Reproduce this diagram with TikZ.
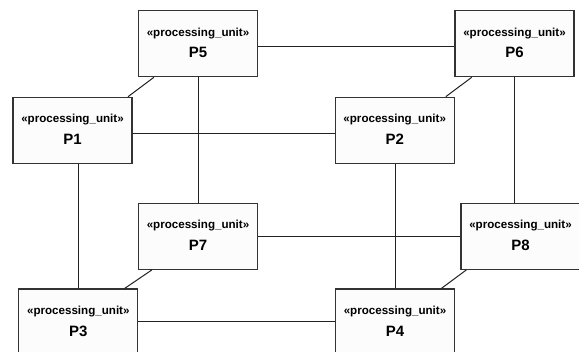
\documentclass[tikz,border=0pt]{standalone}
\usepackage{fontspec}
\setmainfont{Liberation Sans}
\definecolor{boxline}{HTML}{333333}
\definecolor{boxfill}{HTML}{FCFCFC}
\definecolor{wire}{HTML}{222222}
\begin{document}
\begin{tikzpicture}[x=1pt,y=-1pt,
  pu/.style={draw=boxline, line width=1.2pt, fill=boxfill, minimum width=119pt, minimum height=66pt, inner sep=0pt},
  wirel/.style={draw=wire, line width=1pt},
  stereo/.style={font=\bfseries\fontsize{11.6}{12}\selectfont},
  pname/.style={font=\bfseries\fontsize{15}{16}\selectfont}]
\useasboundingbox (0,0) rectangle (579,352);
\fill[white] (0,0) rectangle (579,352);
% boxes
\node[pu] (P5) at (198,43.7) {};
\node[pu] (P6) at (514.5,43.7) {};
\node[pu] (P1) at (72.5,130.3) {};
\node[pu] (P2) at (394.7,130.3) {};
\node[pu] (P7) at (198,236.3) {};
\node[pu] (P8) at (520.5,236.3) {};
\node[pu] (P3) at (78.3,322) {};
\node[pu] (P4) at (395,322) {};
% labels
\foreach \n in {P1,P2,P3,P4,P5,P6,P7,P8}{
  \node[stereo, anchor=center] (\n s) at ([yshift=10.5pt]\n.center) {«processing\_unit»};
  \node[pname, anchor=center] (\n n) at ([yshift=-9pt]\n.center) {\n};
}
% horizontal connectors
\draw[wirel] ([yshift=-3pt]P5.east) -- ([yshift=-3pt]P5.east -| P6.west);
\draw[wirel] ([yshift=-3pt]P1.east) -- ([yshift=-3pt]P1.east -| P2.west);
\draw[wirel] (P7.east) -- (P7.east -| P8.west);
\draw[wirel] (P3.east) -- (P3.east -| P4.west);
% vertical connectors
\draw[wirel] (P5.south) -- (P5.south |- P7.north);
\draw[wirel] (P3.north |- P1.south) -- (P3.north);
\draw[wirel] (P6.south) -- (P6.south |- P8.north);
\draw[wirel] (P2.south -| P4.north) -- (P4.north);
% diagonal connectors
\draw[wirel] ([xshift=16pt]P5.south west) -- ([xshift=-4.6pt]P1.north east);
\draw[wirel] ([xshift=17.3pt]P6.south west) -- ([xshift=-9pt]P2.north east);
\draw[wirel] ([xshift=14pt]P7.south west) -- ([xshift=-13.7pt]P3.north east);
\draw[wirel] ([xshift=6pt]P8.south west) -- ([xshift=-13.7pt]P4.north east);
\end{tikzpicture}
\end{document}
